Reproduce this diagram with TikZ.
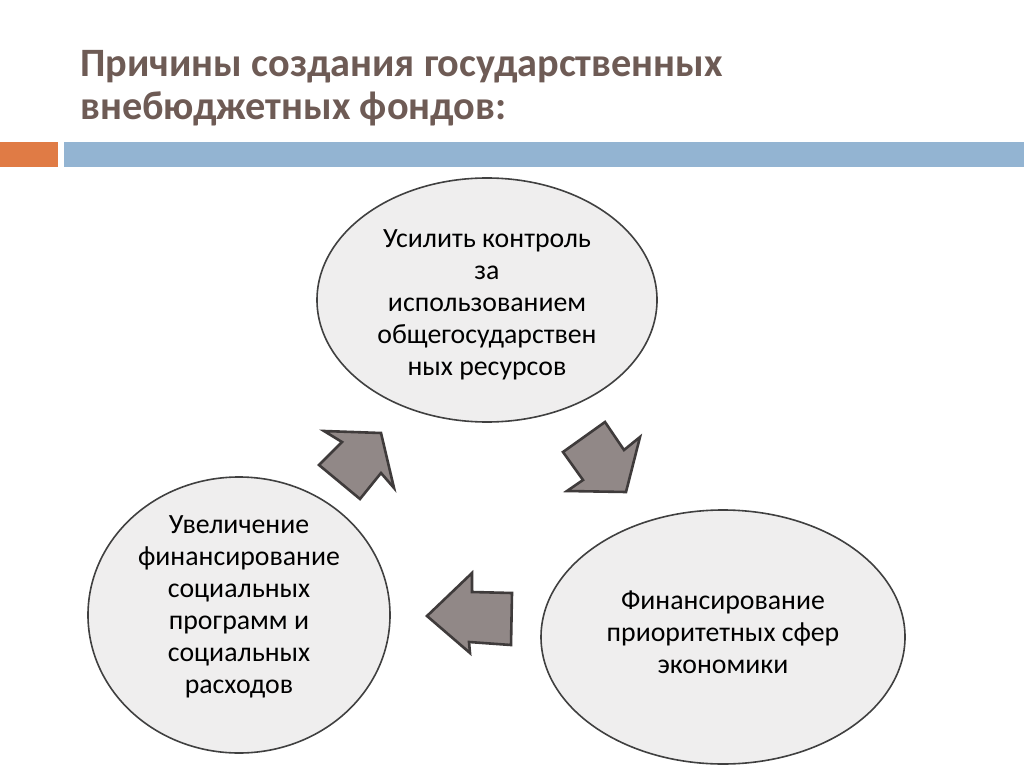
\documentclass[tikz,border=0pt]{standalone}
\usepackage{fontspec}
\setmainfont{Carlito}
\usetikzlibrary{shapes.geometric}
\definecolor{titlec}{HTML}{6E5B55}
\definecolor{orangebar}{HTML}{E07B45}
\definecolor{bluebar}{HTML}{93B4D2}
\definecolor{ellfill}{HTML}{EFEEEE}
\definecolor{ellline}{HTML}{404040}
\definecolor{arrfill}{HTML}{918887}
\definecolor{arrline}{HTML}{3F3B3B}
\tikzset{
  ell/.style={draw=ellline, line width=1.6pt, fill=ellfill, ellipse, inner sep=0pt, align=center,
    text=black},
  elltext/.style={inner sep=0pt, align=center, font=\fontsize{27.8}{32}\selectfont, text=black},
  blockarr/.style={draw=arrline, line width=2.6pt, fill=arrfill, line join=miter},
  bar/.style={draw=none}
}
\begin{document}
\begin{tikzpicture}[x=1pt,y=-1pt]
\useasboundingbox (0,0) rectangle (1024,767);
\fill[white] (0,0) rectangle (1024,767);
% title
\node[anchor=base west, align=left, text=titlec, font=\fontsize{40.3}{43}\selectfont\bfseries, inner sep=0pt] (title) at (80,120)
  {Причины создания государственных\\внебюджетных фондов:};
% bars
\fill[bar, orangebar] (0,142) rectangle (58,167);
\fill[bar, bluebar] (64,142) rectangle (1024,167);
% ellipses
\node[ell, minimum width=340pt, minimum height=244pt] (top) at (487,300) {};
\node[ell, minimum width=302pt, minimum height=276pt] (left) at (239,615) {};
\node[ell, minimum width=364pt, minimum height=254pt] (right) at (723,637) {};
\node[elltext] (toptext) at (487,305)
  {Усилить контроль\\за\\использованием\\общегосударствен\\ных ресурсов};
\node[elltext] (lefttext) at (239,607)
  {Увеличение\\финансирование\\социальных\\программ и\\социальных\\расходов};
\node[elltext] (righttext) at (723,632)
  {Финансирование\\приоритетных сфер\\экономики};
% arrows
\draw[blockarr] (324,431) -- (381,433) -- (394,488) -- (381,473) -- (360,499) -- (319,465) -- (342,442) -- cycle;
\draw[blockarr] (605,422) -- (624,450) -- (640,437) -- (626,492) -- (567,491) -- (583,480) -- (563,452) -- cycle;
\draw[blockarr] (472,573) -- (472,592) -- (512,593) -- (511,645) -- (469,642) -- (470,653) -- (427,616) -- cycle;
\end{tikzpicture}
\end{document}
